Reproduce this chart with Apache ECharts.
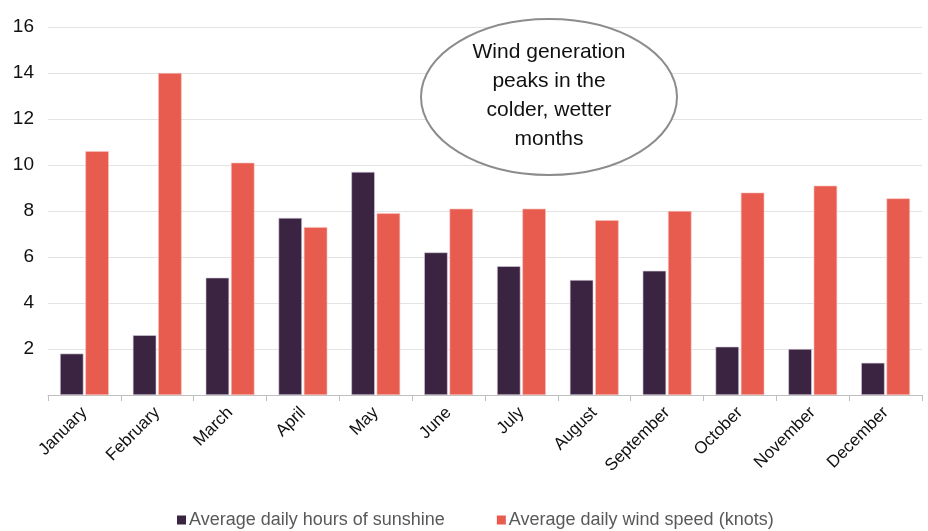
<!DOCTYPE html>
<html>
<head>
<meta charset="utf-8">
<script src="https://cdn.jsdelivr.net/npm/echarts@6/dist/echarts.min.js"></script>
<style>
  html, body { margin: 0; padding: 0; background: #fff; }
  #chart { width: 928px; height: 531px; }
</style>
</head>
<body>
<div id="chart"></div>
<script>
// categories and values
var months = ['January', 'February', 'March', 'April', 'May', 'June',
    'July', 'August', 'September', 'October', 'November', 'December'];
var sunshine = [1.8, 2.6, 5.1, 7.7, 9.7, 6.2, 5.6, 5.0, 5.4, 2.1, 2.0, 1.4];
var windSpeed = [10.6, 14.0, 10.1, 7.3, 7.9, 8.1, 8.1, 7.6, 8.0, 8.8, 9.1, 8.55];
var yTicks = [0, 2, 4, 6, 8, 10, 12, 14, 16];
var noteLines = ['Wind generation', 'peaks in the', 'colder, wetter', 'months'];

var FONT = '"Liberation Sans", Arial, sans-serif';

let chart = echarts.init(document.getElementById('chart'));

let option = {
    animation: false,
    textStyle: { fontFamily: FONT },
    grid: { left: 48, right: 6, top: 27, bottom: 136, containLabel: false },
    legend: {
        bottom: -3,
        left: 172,
        itemWidth: 9,
        itemHeight: 9,
        itemGap: 52,
        icon: 'rect',
        itemStyle: { borderWidth: 0 },
        textStyle: { fontSize: 18, color: '#595959', fontFamily: FONT, padding: [0, 0, 0, -2] }
    },
    xAxis: {
        type: 'category',
        data: months,
        axisLine: { lineStyle: { color: '#bfbfbf' } },
        axisTick: { show: true, alignWithLabel: false, length: 6, lineStyle: { color: '#bfbfbf' } },
        axisLabel: { rotate: 45, fontSize: 17, color: '#111', margin: 15, interval: 0 }
    },
    yAxis: {
        type: 'value',
        min: yTicks[0],
        max: yTicks[yTicks.length - 1],
        interval: 2,
        axisLine: { show: false },
        axisTick: { show: false },
        splitLine: { lineStyle: { color: '#e3e3e3', width: 1 } },
        axisLabel: {
            fontSize: 19, color: '#111', margin: 14,
            formatter: function (v) { return v === 0 ? '' : String(v); }
        }
    },
    series: [
        {
            name: 'Average daily hours of sunshine',
            type: 'bar',
            data: sunshine,
            barGap: '8%',
            barCategoryGap: '33%',
            itemStyle: { color: '#3b2342', borderColor: '#d9cfdc', borderWidth: 0.6 }
        },
        {
            name: 'Average daily wind speed (knots)',
            type: 'bar',
            data: windSpeed,
            itemStyle: { color: '#e85c4f', borderColor: '#f6c2bc', borderWidth: 0.6 }
        }
    ],
    graphic: [
        {
            type: 'ellipse',
            shape: { cx: 549, cy: 97, rx: 128, ry: 78 },
            style: { fill: '#fff', stroke: '#8c8c8c', lineWidth: 2 },
            z: 100
        },
        {
            type: 'text',
            x: 549,
            y: 96,
            z: 101,
            style: {
                text: noteLines.join('\n'),
                font: '21px ' + FONT,
                fill: '#111',
                align: 'center',
                verticalAlign: 'middle',
                lineHeight: 29
            }
        }
    ]
};

chart.setOption(option);
</script>
</body>
</html>
